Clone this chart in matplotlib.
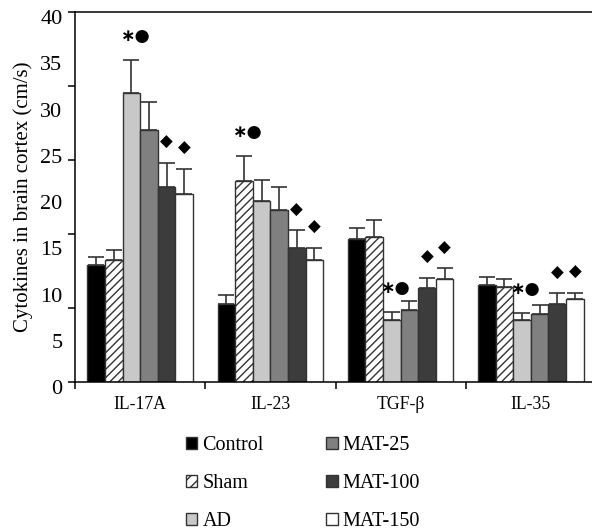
import numpy as np
import matplotlib.pyplot as plt
from matplotlib.patches import Patch
from matplotlib.transforms import ScaledTranslation

plt.rcParams['font.family'] = ['Liberation Serif', 'DejaVu Sans']
plt.rcParams['hatch.linewidth'] = 1.0

# Data
groups = ["IL-17A", "IL-23", "TGF-\u03b2", "IL-35"]
series = ["Control", "Sham", "AD", "MAT-25", "MAT-100", "MAT-150"]

control = [12.7, 8.5, 15.5, 10.5]
sham = [13.2, 21.7, 15.7, 10.3]
ad = [31.3, 19.6, 6.7, 6.7]
mat25 = [27.3, 18.6, 7.8, 7.4]
mat100 = [21.1, 14.5, 10.2, 8.5]
mat150 = [20.3, 13.2, 11.2, 9.0]

control_err = [0.8, 0.9, 1.2, 0.9]
sham_err = [1.1, 2.7, 1.8, 0.9]
ad_err = [3.5, 2.3, 0.9, 0.8]
mat25_err = [3.0, 2.5, 1.0, 1.0]
mat100_err = [2.6, 1.9, 1.1, 1.1]
mat150_err = [2.7, 1.3, 1.1, 0.7]

# significance marks: (group, series index, symbol)
ann_group = [0, 1, 2, 3, 0, 0, 1, 1, 2, 2, 3, 3]
ann_series = [2, 1, 2, 2, 4, 5, 4, 5, 4, 5, 4, 5]
ann_symbol = ["\u2217\u25cf"] * 4 + ["\u25c6"] * 8

values = [control, sham, ad, mat25, mat100, mat150]
errors = [control_err, sham_err, ad_err, mat25_err, mat100_err, mat150_err]
colors = ["black", "white", "#c8c8c8", "#808080", "#3c3c3c", "white"]
hatches = [None, "////", None, None, None, None]

fig = plt.figure(figsize=(5.92, 5.32), dpi=100)
W, H = 592, 532
ax = fig.add_axes([75 / W, (H - 382.3) / H, (596 - 75) / W, (382.3 - 12) / H])

x = np.arange(len(groups))
w = 0.135
edge = "#333333"
for i in range(len(series)):
    xs = x + (i - 2.5) * w
    ax.bar(xs, values[i], width=w, color=colors[i], edgecolor=edge,
           linewidth=1.0, hatch=hatches[i], label=series[i], zorder=2)
    ax.errorbar(xs, values[i], yerr=[np.zeros(4), errors[i]], fmt="none",
                ecolor=edge, elinewidth=1.2, capsize=6, capthick=1.2, zorder=1)

for g, s, sym in zip(ann_group, ann_series, ann_symbol):
    top = values[s][g] + errors[s][g]
    xpos = g + (s - 2.5) * w
    if sym.startswith("\u2217"):
        ax.annotate(sym, (xpos, top), xytext=(4, 24), textcoords="offset pixels",
                    ha="center", va="center", fontsize=12.5, family="DejaVu Sans",
                    fontweight="bold")
    else:
        ax.annotate(sym, (xpos, top), xytext=(0, 21), textcoords="offset pixels",
                    ha="center", va="center", fontsize=12, family="DejaVu Sans")

ax.set_xlim(-0.5, 3.5)
ax.set_ylim(0, 40)

# y: labels every 5, tick marks every 8
ax.set_yticks(np.arange(0, 41, 5))
ax.set_yticks(np.arange(0, 41, 8), minor=True)
ax.yaxis.remove_overlapping_locs = False
ax.tick_params(axis="y", which="major", length=0, pad=9, labelsize=16)
ax.tick_params(axis="y", which="minor", length=5, width=1.1, direction="out")
for lab in ax.get_yticklabels():
    lab.set_transform(lab.get_transform() + ScaledTranslation(0, -0.05, fig.dpi_scale_trans))

# x: tick marks between groups, labels at group centers
ax.set_xticks(np.arange(-0.5, 3.6, 1.0))
ax.set_xticklabels([])
ax.set_xticks(x, minor=True)
ax.set_xticklabels(groups, minor=True)
ax.tick_params(axis="x", which="major", length=5, width=1.1, direction="out")
ax.tick_params(axis="x", which="minor", length=0, pad=10, labelsize=12.7)

for sp in ax.spines.values():
    sp.set_linewidth(1.1)

ax.set_ylabel("Cytokines in brain cortex (cm/s)", fontsize=15, labelpad=5)

handles = [Patch(facecolor=colors[i], edgecolor=edge, hatch=hatches[i] and "///", linewidth=1.0)
           for i in range(len(series))]
fig.legend(handles, series, loc="upper left", bbox_to_anchor=(186 / W, 1 - 436 / H),
           ncol=2, frameon=False, fontsize=14.5, handlelength=0.57, handleheight=0.57,
           handletextpad=0.25, columnspacing=3.1, labelspacing=0.95,
           borderpad=0, borderaxespad=0)

fig.savefig("out.png", dpi=100)
